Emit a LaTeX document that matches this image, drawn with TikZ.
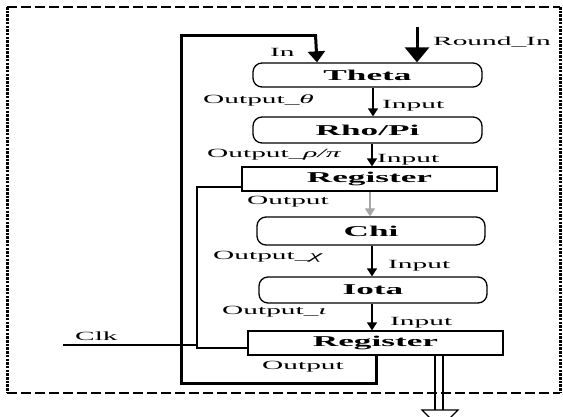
\documentclass[tikz,border=0pt]{standalone}
\usepackage{fontspec}
\usetikzlibrary{arrows.meta,calc}
\newfontfamily\wide[FakeStretch=2.35]{Liberation Serif}
\begin{document}
\begin{tikzpicture}[x=1pt,y=-1pt,
  blockbox/.style={draw,line width=1.3pt,minimum height=#1,inner sep=0pt,
    font=\wide\bfseries\fontsize{15}{17}\selectfont},
  roundbox/.style={blockbox=#1,rounded corners=9pt},
  lbl/.style={inner sep=0pt,anchor=west,font=\wide\fontsize{12.5}{14}\selectfont},
  flow/.style={line width=1.5pt,-{Triangle[width=10pt,length=8pt]}},
  thick loop/.style={line width=3pt},
  frameside/.style={line width=3pt,dash pattern=on 2.5pt off 1.2pt},
  frametop/.style={line width=1.4pt,dash pattern=on 10pt off 4pt}]
\useasboundingbox (0,0) rectangle (563,416);

% outer dashed frame
\draw[frametop] (7,7) -- (560,7);
\draw[frametop,line width=1.8pt] (7,393) -- (560,393);
\draw[frameside] (7,7) -- (7,393);
\draw[frameside] (560,7) -- (560,393);

% processing blocks
\node[roundbox=24pt,minimum width=229pt] (theta) at (367.5,75) {Theta};
\node[roundbox=26pt,minimum width=229pt] (rho) at (367.5,130) {Rho/Pi};
\node[blockbox=24pt,minimum width=255pt] (reg1) at (369.5,179) {Register};
\node[roundbox=28pt,minimum width=228pt] (chi) at (371,231) {Chi};
\node[roundbox=26pt,minimum width=228pt] (iota) at (373,290) {Iota};
\node[blockbox=24pt,minimum width=255pt] (reg2) at (375.5,343) {Register};

% columns and corner points of the wiring
\coordinate (cA) at (373,0);
\coordinate (cB) at (372,0);
\coordinate (cC) at (370,0);
\coordinate (fbx) at (376,0);
\coordinate (inx) at (317,0);
\coordinate (rin) at (417,27);
\coordinate (fbBL) at (181,383);
\coordinate (fbTL) at (181,35);
\coordinate (lpx) at (197,0);
\coordinate (clk) at (63,345);
\coordinate (clkEnd) at (197,345);
\coordinate (oa) at (435,0);
\coordinate (ob) at (443,0);

% data path
\draw[flow] (theta.south -| cA) -- (rho.north -| cA);
\draw[flow] (rho.south -| cB) -- (reg1.north -| cB);
\draw[flow,gray!70] (reg1.south -| cC) -- (chi.north -| cC);
\draw[flow] (chi.south -| cB) -- (iota.north -| cB);
\draw[flow] (iota.south -| cB) -- (reg2.north -| cB);

% round input
\draw[line width=3pt,-{Triangle[width=24pt,length=15pt]}] (rin) -- (theta.north -| rin);

% state feedback into Theta
\draw[thick loop] (reg2.south -| fbx) -- (fbx |- fbBL) -- (fbBL) -- (fbTL) -- (fbTL -| inx);
\draw[line width=3pt,-{Triangle[width=17pt,length=11pt]}] ([xshift=-1.5pt]fbTL -| inx) -- (theta.north -| inx);

% first register to second register
\coordinate (r1w) at ($(reg1.west)+(0,8)$);
\coordinate (r2w) at ($(reg2.west)+(0,5)$);
\draw[line width=1.8pt] (r1w) -- (r1w -| lpx) -- (lpx |- r2w) -- (r2w);

% clock
\draw[line width=1.3pt] (clk) -- (clkEnd);

% output bus
\coordinate (ostop) at (0,410);
\draw[line width=1.5pt] (reg2.south -| oa) -- (oa |- ostop);
\draw[line width=1.5pt] (reg2.south -| ob) -- (ob |- ostop);
\coordinate (oh1) at (422,410);
\coordinate (oh2) at (458,410);
\coordinate (oh3) at (440,428);
\draw[line width=1.2pt,fill=white] (oh1) -- (oh2) -- (oh3) -- cycle;

% labels
\node[lbl] (lIn) at (270,52) {In};
\node[lbl] (lRound) at (433,42) {Round\_In};
\node[lbl] (lOt) at (203,100) {Output\_\textit{θ}};
\node[lbl] (lI1) at (382,106) {Input};
\node[lbl] (lOr) at (207,155) {Output\_\textit{ρ/π}};
\node[lbl] (lI2) at (377,160) {Input};
\node[lbl] (lO1) at (247,202) {Output};
\node[lbl] (lOc) at (213,257) {Output\_\textit{χ}};
\node[lbl] (lI3) at (388,266) {Input};
\node[lbl] (lOi) at (222,312) {Output\_\textit{ι}};
\node[lbl] (lI4) at (390,323) {Input};
\node[lbl] (lO2) at (262,367) {Output};
\node[lbl] (lClk) at (75,336) {Clk};
\end{tikzpicture}
\end{document}
